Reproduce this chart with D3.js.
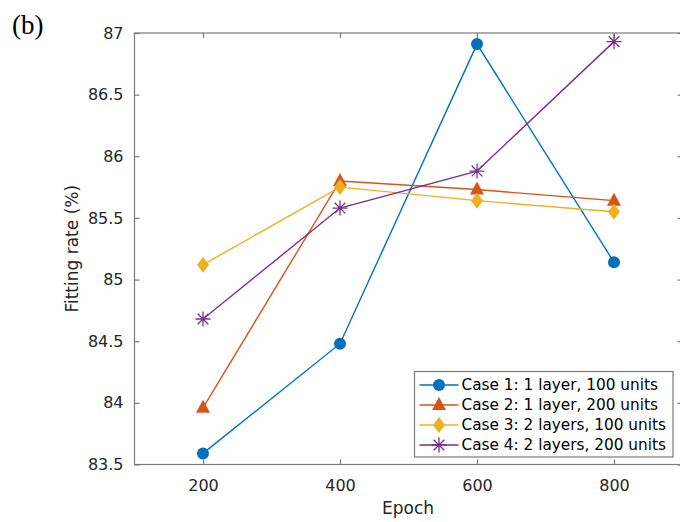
<!DOCTYPE html>
<html lang="en">
<head>
  <meta charset="utf-8">
  <title>Fitting rate vs epoch</title>
  <style>
    body { margin: 0; background: #fff; overflow: hidden; }
    svg { display: block; }
    text { font-family: "DejaVu Sans", sans-serif; fill: #262626; }
  </style>
</head>
<body>
  <svg width="680" height="522"></svg>
  <script src="https://cdn.jsdelivr.net/npm/d3@7"></script>
  <script>

  // data
  var epochs = [200, 400, 600, 800];
  var yTicks = [83.5, 84, 84.5, 85, 85.5, 86, 86.5, 87];
  var caseNames = [
    "Case 1: 1 layer, 100 units",
    "Case 2: 1 layer, 200 units",
    "Case 3: 2 layers, 100 units",
    "Case 4: 2 layers, 200 units"
  ];
  var case1 = [83.59, 84.48, 86.91, 85.14];
  var case2 = [83.96, 85.80, 85.73, 85.64];
  var case3 = [85.12, 85.75, 85.64, 85.55];
  var case4 = [84.68, 85.58, 85.88, 86.93];

  var colors = ["#0072BD", "#D95319", "#EDB120", "#7E2F8E"];
  var markers = ["circle", "triangle", "diamond", "star"];

  var series = [case1, case2, case3, case4].map(function(vals, i) {
    return {
      name: caseNames[i],
      color: colors[i],
      marker: markers[i],
      points: vals.map(function(v, j) { return { x: epochs[j], y: v }; })
    };
  });

  var svg = d3.select("svg");

  // axes box (right edge falls just outside the window, as in the figure)
  var plotL = 134.5, plotR = 682.5, plotT = 33, plotB = 464.5;

  var x = d3.scaleLinear().domain([100, 900]).range([plotL, plotR]);
  var y = d3.scaleLinear().domain([83.5, 87]).range([plotB, plotT]);

  var axisColor = "#7a7a7a";
  var tick = 5;

  svg.append("rect")
      .attr("x", plotL).attr("y", plotT)
      .attr("width", plotR - plotL).attr("height", plotB - plotT)
      .attr("fill", "none")
      .attr("stroke", axisColor)
      .attr("stroke-width", 1.2);

  // inward ticks, all four sides (MATLAB box on)
  var bottomAxis = d3.axisBottom(x).tickValues(epochs).tickSize(-tick).tickPadding(tick + 10);
  var topAxis = d3.axisTop(x).tickValues(epochs).tickSize(-tick).tickFormat("");
  var leftAxis = d3.axisLeft(y).tickValues(yTicks).tickSize(-tick).tickPadding(tick + 6)
      .tickFormat(function(d) { return String(d); });
  var rightAxis = d3.axisRight(y).tickValues(yTicks).tickSize(-tick).tickFormat("");

  function styleAxis(g) {
    g.select(".domain").remove();
    g.selectAll(".tick line").attr("stroke", axisColor).attr("stroke-width", 1.2);
    g.selectAll(".tick text")
        .attr("fill", "#262626")
        .style("font-family", "'DejaVu Sans', sans-serif")
        .style("font-size", "16px");
  }

  svg.append("g").attr("transform", "translate(0," + plotB + ")").call(bottomAxis).call(styleAxis);
  svg.append("g").attr("transform", "translate(0," + plotT + ")").call(topAxis).call(styleAxis);
  svg.append("g").attr("transform", "translate(" + plotL + ",0)").call(leftAxis).call(styleAxis);
  svg.append("g").attr("transform", "translate(" + plotR + ",0)").call(rightAxis).call(styleAxis);

  // axis labels
  svg.append("text")
      .attr("x", 408)
      .attr("y", 514)
      .attr("text-anchor", "middle")
      .style("font-size", "17px")
      .text("Epoch");

  svg.append("text")
      .attr("transform", "translate(78," + (plotT + plotB) / 2 + ") rotate(-90)")
      .attr("text-anchor", "middle")
      .style("font-size", "17px")
      .text("Fitting rate (%)");

  svg.append("text")
      .attr("x", 12)
      .attr("y", 34)
      .style("font-family", "'Liberation Serif', serif")
      .style("font-size", "27px")
      .style("fill", "#000")
      .text("(b)");

  function drawMarker(g, type, color) {
    if (type === "circle") {
      g.append("circle").attr("r", 6).attr("fill", color);
    } else if (type === "triangle") {
      g.append("path").attr("d", "M0,-8L7,5L-7,5Z").attr("fill", color);
    } else if (type === "diamond") {
      g.append("path").attr("d", "M0,-8L6,0L0,8L-6,0Z").attr("fill", color);
    } else if (type === "star") {
      var r = 7.5, d = "";
      [0, 45, 90, 135].forEach(function(a) {
        var rad = a * Math.PI / 180;
        d += "M" + (-r * Math.cos(rad)) + "," + (-r * Math.sin(rad)) +
             "L" + (r * Math.cos(rad)) + "," + (r * Math.sin(rad));
      });
      g.append("path").attr("d", d).attr("stroke", color).attr("stroke-width", 1.3).attr("fill", "none");
    }
  }

  var line = d3.line()
      .x(function(d) { return x(d.x); })
      .y(function(d) { return y(d.y); });

  series.forEach(function(s) {
    svg.append("path")
        .datum(s.points)
        .attr("d", line)
        .attr("fill", "none")
        .attr("stroke", s.color)
        .attr("stroke-width", 1.4);

    s.points.forEach(function(p) {
      var g = svg.append("g").attr("transform", "translate(" + x(p.x) + "," + y(p.y) + ")");
      drawMarker(g, s.marker, s.color);
    });
  });

  // legend
  var lx = 414.5, ly = 371.5, lw = 258.5, lh = 85.5;
  svg.append("rect")
      .attr("x", lx).attr("y", ly)
      .attr("width", lw).attr("height", lh)
      .attr("fill", "#fff")
      .attr("stroke", axisColor)
      .attr("stroke-width", 1.2);

  series.forEach(function(s, i) {
    var rowY = 385 + i * 20;
    svg.append("line")
        .attr("x1", lx + 5).attr("x2", lx + 44)
        .attr("y1", rowY).attr("y2", rowY)
        .attr("stroke", s.color)
        .attr("stroke-width", 1.4);
    var g = svg.append("g").attr("transform", "translate(" + (lx + 24.5) + "," + rowY + ")");
    drawMarker(g, s.marker, s.color);
    svg.append("text")
        .attr("x", lx + 47)
        .attr("y", rowY)
        .attr("dy", "0.35em")
        .style("font-size", "15.3px")
        .style("fill", "#000")
        .text(s.name);
  });

  </script>
</body>
</html>
